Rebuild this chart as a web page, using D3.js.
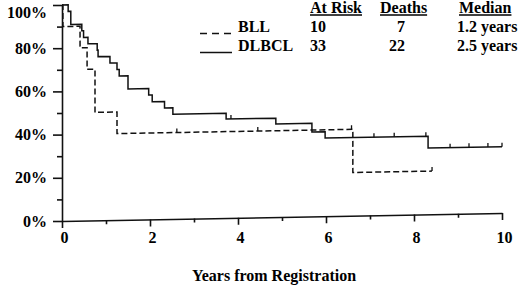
<!DOCTYPE html>
<html>
<head>
<meta charset="utf-8">
<script src="https://cdn.jsdelivr.net/npm/d3@7"></script>
<style>
  body { margin: 0; background: #fff; }
  svg { display: block; }
  text { font-family: 'Liberation Serif', 'Times New Roman', 'DejaVu Serif', serif; font-weight: bold; }
</style>
</head>
<body>
<script>
var w = 520,
    h = 285;

// survival steps (years, % surviving)
var bllYears = [0, 0.02, 0.41, 0.57, 0.75, 1.25, 6.61, 8.41];
var bllSurv = [100, 90, 80, 70, 50, 40, 20, 20];
var bllCensor = [2.61, 4.45, 6.58, 8.41];

var dlbclYears = [0, 0.14, 0.2, 0.45, 0.49, 0.59, 0.8, 0.82, 1.09, 1.25, 1.3, 1.5,
                  1.97, 2.05, 2.33, 2.52, 3.73, 4.86, 5.68, 5.98, 8.32, 10];
var dlbclSurv = [100, 97, 90.9, 87.9, 84.8, 81.8, 78.8, 75.8, 72.7, 69.7, 66.7, 60.6,
                 57.6, 54.5, 51.5, 48.5, 45.8, 43.1, 39.1, 36.2, 30.7, 30.7];
var dlbclCensor = [3.84, 7.09, 7.55, 8.27, 8.82, 9.25, 9.68, 10];

var xMajor = [0, 2, 4, 6, 8, 10],
    xMinor = [1, 3, 5, 7, 9];
var yMajor = [0, 20, 40, 60, 80, 100],
    yMinor = [10, 30, 50, 70, 90];

var groups = ['BLL', 'DLBCL'];
var atRisk = [10, 33];
var deaths = [7, 22];
var medians = ['1.2 years', '2.5 years'];
var headers = ['At Risk', 'Deaths', 'Median'];

var ink = '#111';

var svg = d3.select('body')
            .append('svg')
            .attr('width', w)
            .attr('height', h);

var x = d3.scaleLinear()
          .domain([0, 10])
          .range([62, 502]);

var y = d3.scaleLinear()
          .domain([0, 100])
          .range([221, 5]);

// the scanned plot is slightly sheared: the x axis rises to the right
var plot = svg.append('g')
              .attr('transform', 'translate(62,0) skewY(-1.04) translate(-62,0)');

plot.append('g')
    .attr('transform', 'translate(0,' + y(0) + ')')
    .call(d3.axisBottom(x).tickValues(xMajor).tickSize(7)
            .tickSizeOuter(0).tickFormat(''));
plot.append('g')
    .attr('transform', 'translate(0,' + y(0) + ')')
    .call(d3.axisBottom(x).tickValues(xMinor).tickSize(4).tickFormat(''))
    .select('.domain').remove();

// x tick labels stay level
var xLabels = svg.append('g')
                 .attr('transform', 'translate(2,' + y(0) + ')')
                 .call(d3.axisBottom(x).tickValues(xMajor).tickSize(0).tickPadding(11));
xLabels.select('.domain').remove();

var yAxis = svg.append('g')
               .attr('transform', 'translate(62,0)')
               .call(d3.axisLeft(y).tickValues(yMajor).tickSize(9).tickPadding(6)
                       .tickSizeOuter(0)
                       .tickFormat(function(d) { return d + '%'; }));
yAxis.selectAll('.tick text')
     .filter(function(d) { return d === 100; })
     .attr('y', 7);

svg.append('g')
   .attr('transform', 'translate(62,0)')
   .call(d3.axisLeft(y).tickValues(yMinor).tickSize(5).tickFormat(''))
   .select('.domain').remove();

svg.selectAll('.domain, .tick line')
   .attr('stroke', ink)
   .attr('stroke-width', 1.6);

svg.selectAll('.tick text')
   .attr('font-size', 16)
   .attr('fill', '#000');

// curves
var line = d3.line()
             .x(function(d) { return x(d[0]); })
             .y(function(d) { return y(d[1]); })
             .curve(d3.curveStepAfter);

function survAt(years, surv, t) {
  var i = d3.bisectRight(years, t) - 1;
  return surv[Math.max(i, 0)];
}

var series = [
  { years: bllYears, surv: bllSurv, censor: bllCensor, dash: '6,3' },
  { years: dlbclYears, surv: dlbclSurv, censor: dlbclCensor, dash: null }
];

series.forEach(function(s) {
  plot.append('path')
      .datum(d3.zip(s.years, s.surv))
      .attr('d', line)
      .attr('fill', 'none')
      .attr('stroke', ink)
      .attr('stroke-width', 1.5)
      .attr('stroke-dasharray', s.dash);

  plot.selectAll(null)
      .data(s.censor)
      .enter()
      .append('line')
      .attr('x1', function(d) { return x(d); })
      .attr('x2', function(d) { return x(d); })
      .attr('y1', function(d) { return y(survAt(s.years, s.surv, d)); })
      .attr('y2', function(d) { return y(survAt(s.years, s.surv, d)) - 4; })
      .attr('stroke', ink)
      .attr('stroke-width', 1.3);
});

// legend and risk table
var rowY = [32, 51];
var table = svg.append('g')
               .attr('font-size', 16)
               .attr('fill', '#000');

var headX = [310, 380, 459];
table.selectAll('.head')
     .data(headers)
     .enter()
     .append('text')
     .attr('class', 'head')
     .attr('x', function(d, i) { return headX[i]; })
     .attr('y', 13)
     .text(function(d) { return d; })
     .each(function(d, i) {
       var len = this.getComputedTextLength();
       table.append('line')
            .attr('x1', headX[i])
            .attr('x2', headX[i] + len)
            .attr('y1', 15)
            .attr('y2', 15)
            .attr('stroke', '#000')
            .attr('stroke-width', 1.4);
     });

groups.forEach(function(g, i) {
  table.append('line')
       .attr('x1', 200)
       .attr('x2', 232)
       .attr('y1', rowY[i] + 1.5)
       .attr('y2', rowY[i] + 1.5)
       .attr('stroke', ink)
       .attr('stroke-width', 1.5)
       .attr('stroke-dasharray', i === 0 ? '7,5' : null);

  table.append('text').attr('x', 238).attr('y', rowY[i]).text(g);
  table.append('text').attr('x', 310).attr('y', rowY[i]).text(atRisk[i]);
  table.append('text').attr('x', 405).attr('y', rowY[i])
       .attr('text-anchor', 'end').text(deaths[i]);
  table.append('text').attr('x', 457).attr('y', rowY[i]).text(medians[i]);
});

svg.append('text')
   .attr('x', 274)
   .attr('y', 281)
   .attr('text-anchor', 'middle')
   .attr('font-size', 16)
   .attr('fill', '#000')
   .text('Years from Registration');
</script>
</body>
</html>
